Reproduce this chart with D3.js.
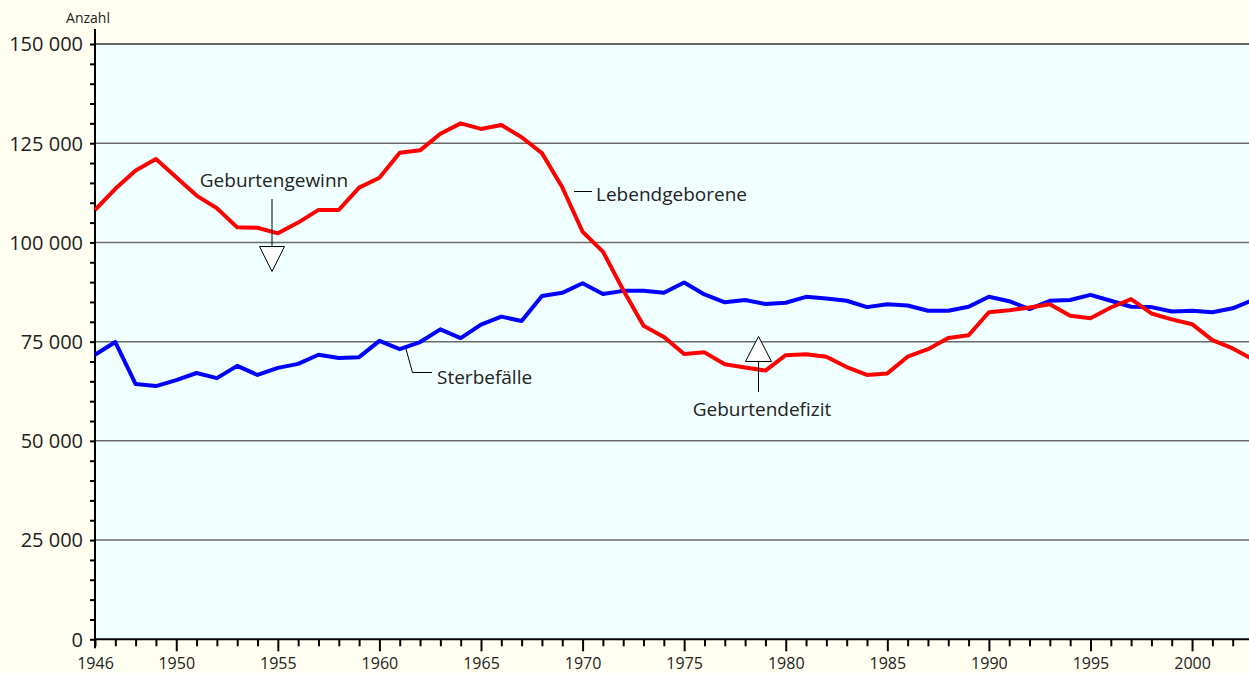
<!DOCTYPE html>
<html>
<head>
<meta charset="utf-8">
<script src="https://cdn.jsdelivr.net/npm/d3@7"></script>
<style>
  body { margin: 0; background: #FFFEF0; }
  svg { display: block; font-family: "Open Sans", sans-serif; }
</style>
</head>
<body>
<div id="chart"></div>
<script>
const YEARS = d3.range(1946, 2004);

// Lebendgeborene
const BIRTHS = [108200, 113500, 118100, 121000, 116400, 111800, 108600, 103800, 103700, 102300,
                105000, 108200, 108200, 113800, 116300, 122600, 123200, 127400, 130000, 128600,
                129600, 126500, 122500, 113900, 102700, 97700, 88000, 79000, 76200, 71900,
                72300, 69300, 68500, 67700, 71600, 71800, 71200, 68600, 66600, 67000,
                71200, 73100, 75900, 76600, 82400, 82900, 83600, 84400, 81500, 80900,
                83600, 85700, 82100, 80600, 79400, 75400, 73300, 70500];

// Sterbefälle
const DEATHS = [71700, 74900, 64300, 63800, 65300, 67100, 65800, 68900, 66600, 68400,
                69400, 71700, 70900, 71100, 75200, 73100, 74900, 78100, 75900, 79300,
                81300, 80200, 86500, 87300, 89700, 87000, 87800, 87800, 87300, 89900,
                86900, 84900, 85500, 84500, 84800, 86300, 85900, 85300, 83700, 84400,
                84100, 82800, 82800, 83800, 86300, 85200, 83200, 85300, 85500, 86800,
                85300, 83800, 83700, 82600, 82800, 82400, 83400, 85500];

const Y_TICKS = [0, 25000, 50000, 75000, 100000, 125000, 150000];
const X_LABELS = [1946, 1950, 1955, 1960, 1965, 1970, 1975, 1980, 1985, 1990, 1995, 2000];

const FRAME_WIDTH = 1249;
const FRAME_HEIGHT = 673;
const PLOT = {left: 95, top: 44, bottom: 639.3, right: 1253};

const X_SCALE = d3.scaleLinear()
                  .domain([1946, 2003])
                  .range([PLOT.left, PLOT.right]);

const Y_SCALE = d3.scaleLinear()
                  .domain([0, 150000])
                  .range([PLOT.bottom, PLOT.top]);

const fmt = (v) => d3.format(",")(v).replace(/,/g, " ");

const SVG = d3.select("#chart")
              .append("svg")
                .attr("width", FRAME_WIDTH)
                .attr("height", FRAME_HEIGHT);

SVG.append("rect")
    .attr("width", FRAME_WIDTH)
    .attr("height", FRAME_HEIGHT)
    .attr("fill", "#FFFEF0");

// plot background
SVG.append("rect")
    .attr("x", PLOT.left)
    .attr("y", PLOT.top)
    .attr("width", PLOT.right - PLOT.left)
    .attr("height", PLOT.bottom - PLOT.top)
    .attr("fill", "#F0FFFF");

// gridlines
SVG.append("g")
  .selectAll("line")
  .data(Y_TICKS.filter((d) => d > 0))
  .enter()
  .append("line")
    .attr("x1", PLOT.left)
    .attr("x2", PLOT.right)
    .attr("y1", (d) => Y_SCALE(d))
    .attr("y2", (d) => Y_SCALE(d))
    .attr("stroke", (d) => d == 150000 ? "#333" : "#6a6a6a")
    .attr("stroke-width", 1.5);

// y axis: minor ticks every 5000
const yAxis = SVG.append("g")
    .attr("transform", "translate(" + PLOT.left + ",0)")
    .call(d3.axisLeft(Y_SCALE)
            .tickValues(d3.range(0, 150001, 5000))
            .tickSize(5)
            .tickFormat((d) => Y_TICKS.includes(d) ? fmt(d) : ""));
yAxis.select(".domain").remove();
yAxis.selectAll(".tick line").attr("stroke", "#000").attr("stroke-width", 2);
yAxis.selectAll(".tick text")
    .attr("x", -12)
    .attr("dy", "0.34em")
    .attr("font-size", 20)
    .attr("font-family", "Open Sans, sans-serif")
    .attr("fill", "#222");

// x axis: yearly ticks, longer every 5 years
const xAxis = SVG.append("g")
    .attr("transform", "translate(0," + PLOT.bottom + ")")
    .call(d3.axisBottom(X_SCALE)
            .tickValues(d3.range(1946, 2004))
            .tickSize(7)
            .tickFormat((d) => X_LABELS.includes(d) ? d : ""));
xAxis.select(".domain").remove();
xAxis.selectAll(".tick line")
    .attr("stroke", "#000")
    .attr("stroke-width", 2)
    .attr("y2", (d) => d % 5 == 0 ? 12 : 7);
xAxis.selectAll(".tick text")
    .attr("y", 18)
    .attr("font-size", 16)
    .attr("font-family", "Open Sans, sans-serif")
    .attr("fill", "#222");

// axis lines
SVG.append("line")
    .attr("x1", PLOT.left).attr("x2", PLOT.left)
    .attr("y1", 29).attr("y2", PLOT.bottom + 9)
    .attr("stroke", "#000").attr("stroke-width", 2);
SVG.append("line")
    .attr("x1", PLOT.left - 1).attr("x2", PLOT.right)
    .attr("y1", PLOT.bottom).attr("y2", PLOT.bottom)
    .attr("stroke", "#000").attr("stroke-width", 2);

SVG.append("text")
    .attr("x", 88)
    .attr("y", 23)
    .attr("text-anchor", "middle")
    .attr("font-size", 14)
    .attr("fill", "#222")
    .text("Anzahl");

// lines
const line = (vals) => d3.line()
    .x((d) => X_SCALE(d))
    .y((d, i) => Y_SCALE(vals[i]))(YEARS);

SVG.append("path")
    .attr("d", line(DEATHS))
    .attr("fill", "none")
    .attr("stroke", "#0000FF")
    .attr("stroke-width", 4)
    .attr("stroke-linejoin", "round");

SVG.append("path")
    .attr("d", line(BIRTHS))
    .attr("fill", "none")
    .attr("stroke", "#FF0000")
    .attr("stroke-width", 4)
    .attr("stroke-linejoin", "round");

// annotations
const ANNO = SVG.append("g")
    .attr("font-size", 19)
    .attr("fill", "#222");

// Geburtengewinn
ANNO.append("text").attr("x", 274).attr("y", 187).attr("text-anchor", "middle").text("Geburtengewinn");
ANNO.append("line").attr("x1", 272).attr("x2", 272).attr("y1", 199).attr("y2", 246)
    .attr("stroke", "#000").attr("stroke-width", 1);
ANNO.append("path").attr("d", "M259.5,246.5L284.5,246.5L272,271.5Z")
    .attr("fill", "#fff").attr("stroke", "#000").attr("stroke-width", 1);

// Lebendgeborene
ANNO.append("line").attr("x1", 574).attr("x2", 592).attr("y1", 191.5).attr("y2", 191.5)
    .attr("stroke", "#000").attr("stroke-width", 1);
ANNO.append("text").attr("x", 596).attr("y", 201).text("Lebendgeborene");

// Geburtendefizit
ANNO.append("path").attr("d", "M758.5,336.5L771.5,361.5L745.5,361.5Z")
    .attr("fill", "#fff").attr("stroke", "#000").attr("stroke-width", 1);
ANNO.append("line").attr("x1", 758.5).attr("x2", 758.5).attr("y1", 361.5).attr("y2", 392)
    .attr("stroke", "#000").attr("stroke-width", 1);
ANNO.append("text").attr("x", 762).attr("y", 416).attr("text-anchor", "middle").text("Geburtendefizit");

// Sterbefälle
ANNO.append("path").attr("d", "M406,349L412.5,372.5L432,372.5")
    .attr("fill", "none").attr("stroke", "#000").attr("stroke-width", 1);
ANNO.append("text").attr("x", 437).attr("y", 384).text("Sterbefälle");
</script>
</body>
</html>
